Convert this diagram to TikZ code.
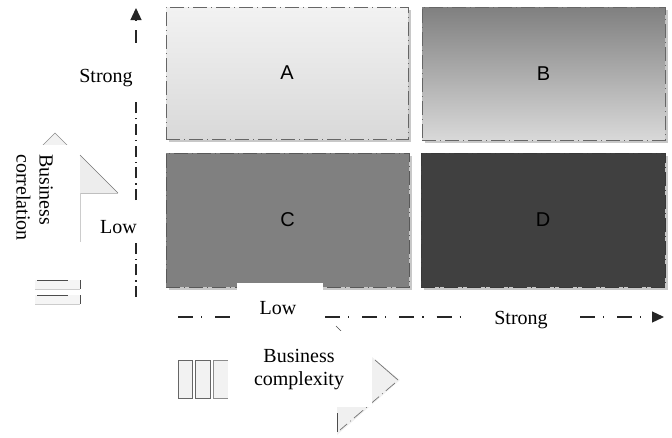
\documentclass[tikz,border=0pt]{standalone}
\usepackage{fontspec}
\setmainfont{Liberation Serif}
\newfontfamily\lsans{Liberation Sans}
\usetikzlibrary{arrows.meta}
\definecolor{shd}{HTML}{C8C8C8}
\begin{document}
\begin{tikzpicture}[x=1pt,y=-1pt,
 quad/.style={draw=#1, line width=1pt, dash pattern=on 14pt off 4pt on 1pt off 4pt,
   inner sep=0pt, outer sep=0pt, font=\lsans\fontsize{20}{24}\selectfont},
 axis/.style={line width=1.3pt, draw=black!85},
 vdash/.style={dash pattern=on 11pt off 4.5pt on 1.2pt off 5pt},
 hdash/.style={dash pattern=on 15pt off 8pt on 1.2pt off 13pt},
 lbl/.style={font=\fontsize{20}{23}\selectfont, inner sep=0pt},
 tip/.style={-{Triangle[length=12pt,width=11pt]}},
 art/.style={draw=black!45, line width=0.6pt, fill=black!5},
 cover/.style={fill=white, draw=none, inner sep=0pt, outer sep=0pt},
]
\useasboundingbox (0,0) rectangle (672,437);
% --- artifacts (left) ---
\path[art] (55,133) -- (30,158) -- (80,158) -- cycle;
\node[cover, minimum width=80pt, minimum height=130pt] (lcover) at (40,210) {};
\path[art, draw=none, fill=black!7] (80,155) -- (118,193) -- (80,193) -- cycle;
\draw[black!55, line width=0.7pt] (80,155) -- (118,193);
\draw[black!25, line width=0.6pt] (80,193) -- (118,193);
\draw[black!20, line width=0.6pt] (80,193) -- (80,242);
\foreach \yy in {280,295}{
  \path[fill=black!4] (35,\yy) rectangle (80,\yy+9);
  \draw[black!70, line width=0.7pt] (37,\yy) -- (68,\yy);
  \draw[black!70, line width=0.7pt] (80,\yy) -- (80,\yy+9);
  \draw[black!20, line width=0.6pt] (35,\yy+9) -- (80,\yy+9);
}
% --- artifacts (bottom) ---
\path[art, draw=black!60] (178,360) rectangle (192,398);
\path[art, draw=black!60] (195,360) rectangle (210,398);
\path[art] (213,360) rectangle (228,398);
\path[fill=black!6] (372,357) -- (400,380) -- (337,435) -- (337,407) -- (372,407) -- cycle;
\draw[black!55, line width=0.7pt] (375,360) -- (398,380);
\draw[black!55, line width=0.7pt, dash pattern=on 12pt off 4pt on 1pt off 4pt] (395,383) -- (340,430);
\draw[black!70, line width=0.7pt] (337,413) -- (337,432);
\draw[black!70, line width=0.7pt] (336,326) -- (341,331);
% --- quadrant shadows ---
\fill[shd] (169,10) rectangle (411,142);
\fill[shd] (425,10) rectangle (668,143);
\fill[shd] (169,156) rectangle (412,290);
\fill[shd] (424,156) rectangle (668,290);
% --- quadrants ---
\node[quad=black!60, minimum width=242pt, minimum height=132pt,
      top color=black!5, bottom color=black!15] (A) at (287,73) {A};
\node[quad=black!60, minimum width=243pt, minimum height=133pt,
      top color=black!50, bottom color=black!15] (B) at (543.5,73.5) {B};
\node[quad=black!65, minimum width=243pt, minimum height=134pt,
      fill=black!50] (C) at (287.5,220) {C};
\node[quad=black!78, minimum width=244pt, minimum height=134pt,
      fill=black!75] (D) at (543,220) {D};
% --- cover boxes ---
\node[cover, minimum width=86pt, minimum height=40pt] (lowbox) at (280,303) {};
\node[cover, minimum width=144pt, minimum height=76pt] (bcbox) at (300,369) {};
% --- vertical axis ---
\coordinate (v0) at (136,297);
\coordinate (v1) at (136,242);
\coordinate (v2) at (136,200);
\coordinate (v3) at (136,98);
\coordinate (v4) at (136,30);
\coordinate (v6) at (136,43);
\coordinate (v7) at (136,20.5);
\coordinate (v5) at (136,8);
\draw[axis, vdash] (v0) -- (v1);
\draw[axis, vdash] (v2) -- (v3);
\draw[axis] (v4) -- (v6);
\draw[axis, tip] (v7) -- (v5);
% --- horizontal axis ---
\coordinate (h0) at (178,317);
\coordinate (h1) at (232,317);
\coordinate (h2) at (325,317);
\coordinate (h3) at (465,317);
\coordinate (h4) at (580,317);
\coordinate (h5) at (664,317);
\draw[axis, hdash] (h0) -- (h1);
\draw[axis, hdash] (h2) -- (h3);
\draw[axis, hdash, tip] (h4) -- (h5);
% --- labels ---
\node[lbl, anchor=base] (vs) at (106,82) {Strong};
\node[lbl, anchor=base] (vl) at (118.5,233) {Low};
\node[lbl, anchor=base] (hl) at (278,314) {Low};
\node[lbl, anchor=base] (hs) at (521,324) {Strong};
\node[lbl, align=center] (bc) at (299,370) {Business\\complexity};
\node[lbl, align=left, rotate=-90, anchor=north west] (br) at (53,154) {Business\\correlation};
\end{tikzpicture}
\end{document}
